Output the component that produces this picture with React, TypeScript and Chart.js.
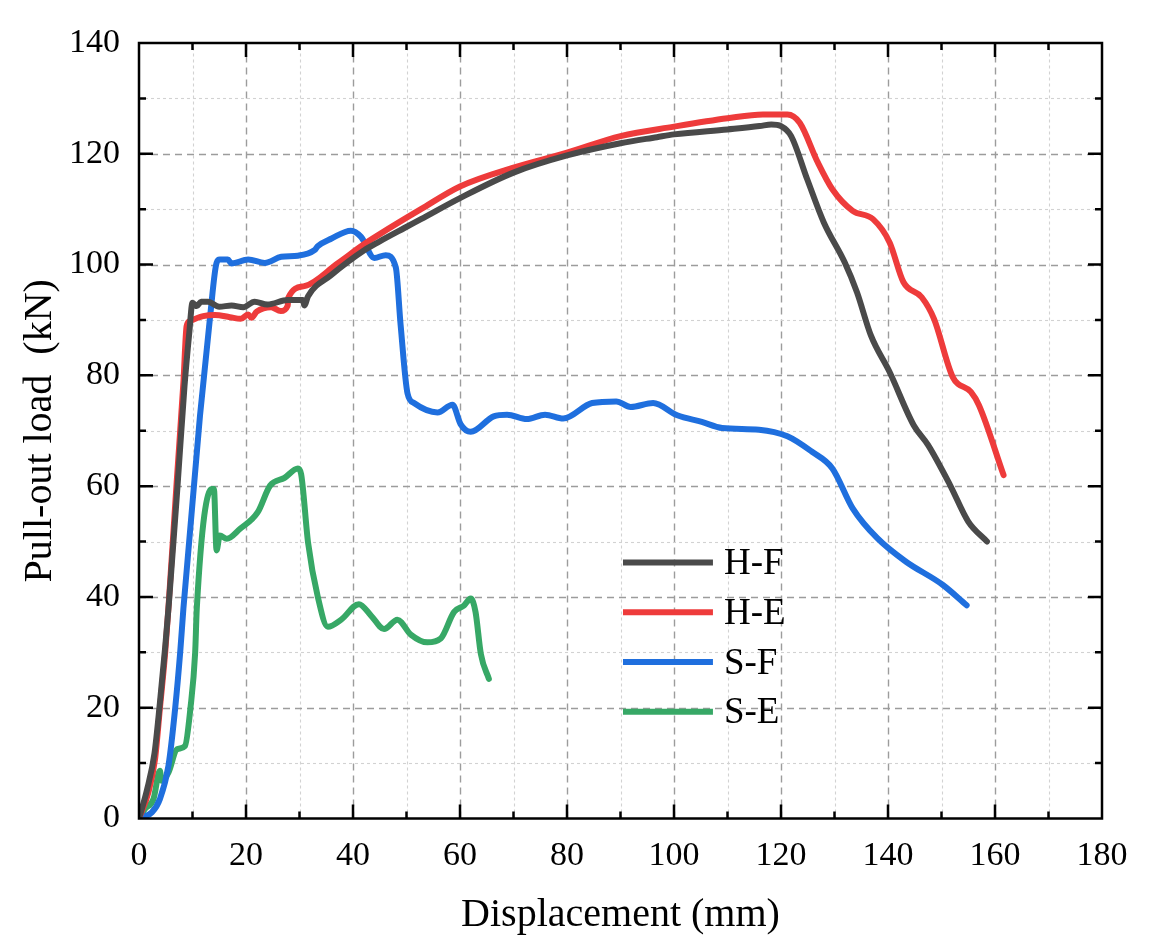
import React, { useEffect, useRef } from 'react';
import { Chart, registerables } from 'chart.js';
import type { Plugin } from 'chart.js';

Chart.register(...registerables);

const seriesNames = ['H-F', 'H-E', 'S-F', 'S-E'];
const seriesColors = ['#4a4a4a', '#ee3b3b', '#1f6fde', '#37a866'];

// H-F
const hfX = [0, 1.5, 2.9, 3.9, 4.9, 5.6, 7.2, 8.5, 9.4, 10, 10.8, 11.6, 12.9, 15, 17.3, 19.5, 21.6, 24, 27.8, 30.6, 30.9, 31.6, 35.9, 42.1, 45, 49.6, 52.7, 60, 70, 80, 90, 96.8, 100, 110, 116, 118.2, 120, 121.9, 124.9, 128, 131.9, 134.2, 136.8, 140.3, 144.8, 147.5, 151.6, 155, 158.5];
const hfY = [0, 5.2, 11.8, 20.8, 31, 39, 60, 78, 87.7, 93.1, 92.5, 93.3, 93.3, 92.4, 92.6, 92.3, 93.3, 92.8, 93.6, 93.6, 92.6, 94.3, 98.1, 102.6, 104.2, 106.6, 108.2, 112, 116.6, 119.7, 121.9, 123, 123.5, 124.4, 125, 125.3, 125, 123.2, 115.4, 107.6, 100.4, 95, 87.2, 80.6, 71, 67.4, 60.2, 53.6, 50];

// H-E
const heX = [0, 1.75, 3, 3.9, 4.9, 5.5, 7.04, 8.3, 8.9, 9.5, 12, 14.2, 17, 19, 20.4, 21, 22, 24.7, 26.5, 27.8, 27.9, 30.9, 37.1, 42.1, 45, 52.7, 60, 70, 80, 90, 100, 110, 116.6, 121.2, 123.5, 126.9, 129.6, 133.4, 137.2, 140.3, 142.9, 146.3, 148.6, 152.1, 155.5, 157, 161.6];
const heY = [0, 4.7, 10.7, 19.8, 30, 38, 60.7, 78.7, 88.9, 89.8, 90.7, 90.9, 90.5, 90.2, 91, 90.4, 91.5, 92.3, 91.6, 92.6, 94, 96.1, 100.2, 103.7, 105.5, 110, 114.1, 117.5, 120.2, 123.2, 124.9, 126.4, 127.1, 127.1, 125.6, 118.4, 113.6, 109.7, 108.2, 104, 96.8, 94.1, 90.2, 79.7, 77, 74.6, 62];

// S-F
const sfX = [0, 2.4, 3.9, 5.5, 6.75, 7.7, 8.3, 11.4, 13.3, 14.5, 15.1, 16.6, 17.3, 20.4, 23.5, 26.6, 29.7, 32.8, 33.4, 36, 39.6, 41.5, 44, 46.1, 48, 48.9, 50.2, 51.4, 55.8, 58.6, 60.1, 62, 66.3, 68.8, 72.5, 75.9, 79.3, 84.7, 89.2, 91.9, 96.1, 100.6, 105.2, 109, 115.9, 121.2, 125.8, 129.6, 133.4, 138, 143.3, 150.2, 154.7];
const sfY = [0, 1.1, 3.5, 9.5, 19.8, 30, 37.9, 72.7, 90.7, 100.3, 100.9, 100.9, 100.2, 100.9, 100.3, 101.4, 101.6, 102.6, 103.3, 104.7, 106.1, 105, 101.2, 101.7, 99.5, 89.1, 76.7, 75, 73.3, 74.7, 71.2, 69.8, 72.6, 72.9, 72.1, 72.9, 72.2, 75, 75.3, 74.3, 75, 72.8, 71.6, 70.5, 70.2, 69, 66.2, 63.2, 56, 50.6, 46.4, 42.2, 38.5];

// S-E
const seX = [0, 1.1, 2.7, 3.9, 4.25, 5.5, 7.1, 8.6, 9.6, 10.5, 10.8, 13.6, 14, 14.5, 15.1, 16.4, 18.9, 22.2, 24.5, 27.2, 29.7, 30.3, 31.6, 33.4, 35.3, 37.8, 41.1, 43.4, 45.8, 48.3, 50.8, 53.9, 56.4, 58.9, 60.7, 62, 62.9, 63.9, 65.4];
const seY = [0, 1.7, 3.5, 8.6, 6.8, 8.3, 12.5, 13.1, 19.8, 30, 37.9, 59.5, 59.5, 48.4, 51.1, 50.5, 52.3, 55.3, 60.1, 61.5, 63.2, 62.2, 49.8, 40.1, 34.6, 35.9, 38.7, 36.6, 34.2, 35.9, 33.2, 31.8, 32.5, 37.3, 38.4, 39.7, 37.3, 29.7, 25.2];

const seriesX = [hfX, heX, sfX, seX];
const seriesY = [hfY, heY, sfY, seY];

const xTicks = [0, 20, 40, 60, 80, 100, 120, 140, 160, 180];
const yTicks = [0, 20, 40, 60, 80, 100, 120, 140];

const serif = '"Liberation Serif", "Times New Roman", serif';

// grid behind the curves, frame with inward ticks on top of them, legend inside the plot
const framePlugin: Plugin = {
  id: 'framePlugin',
  beforeDatasetsDraw(chart) {
    const { ctx, chartArea: a } = chart;
    const x = chart.scales.x;
    const y = chart.scales.y;
    const xMax = xTicks[xTicks.length - 1];
    const yMax = yTicks[yTicks.length - 1];
    ctx.save();
    for (let v = 10; v < xMax; v += 10) {
      const major = v % 20 === 0;
      const px = Math.round(x.getPixelForValue(v)) + 0.5;
      ctx.strokeStyle = major ? '#9c9c9c' : '#d2d2d2';
      ctx.lineWidth = major ? 1.4 : 1.1;
      ctx.setLineDash(major ? [7, 5] : [3, 3]);
      ctx.beginPath();
      ctx.moveTo(px, a.bottom);
      ctx.lineTo(px, a.top);
      ctx.stroke();
    }
    for (let v = 10; v < yMax; v += 10) {
      const major = v % 20 === 0;
      const py = Math.round(y.getPixelForValue(v)) + 0.5;
      ctx.strokeStyle = major ? '#9c9c9c' : '#d2d2d2';
      ctx.lineWidth = major ? 1.4 : 1.1;
      ctx.setLineDash(major ? [7, 5] : [3, 3]);
      ctx.beginPath();
      ctx.moveTo(a.left, py);
      ctx.lineTo(a.right, py);
      ctx.stroke();
    }
    ctx.restore();
  },
  afterDatasetsDraw(chart) {
    const { ctx, chartArea: a } = chart;
    const x = chart.scales.x;
    const y = chart.scales.y;
    const xMax = xTicks[xTicks.length - 1];
    const yMax = yTicks[yTicks.length - 1];
    ctx.save();
    ctx.strokeStyle = '#000';
    ctx.lineWidth = 2.5;
    ctx.setLineDash([]);
    ctx.strokeRect(a.left, a.top, a.right - a.left, a.bottom - a.top);
    for (let v = 10; v < xMax; v += 10) {
      const len = v % 20 === 0 ? 14 : 7;
      const px = x.getPixelForValue(v);
      ctx.beginPath();
      ctx.moveTo(px, a.bottom);
      ctx.lineTo(px, a.bottom - len);
      ctx.moveTo(px, a.top);
      ctx.lineTo(px, a.top + len);
      ctx.stroke();
    }
    for (let v = 10; v < yMax; v += 10) {
      const len = v % 20 === 0 ? 14 : 7;
      const py = y.getPixelForValue(v);
      ctx.beginPath();
      ctx.moveTo(a.left, py);
      ctx.lineTo(a.left + len, py);
      ctx.moveTo(a.right, py);
      ctx.lineTo(a.right - len, py);
      ctx.stroke();
    }
    ctx.restore();
  },
  afterDraw(chart) {
    const { ctx, chartArea: a } = chart;
    const w = a.right - a.left;
    const h = a.bottom - a.top;
    const x0 = a.left + w * 0.5026;
    const x1 = a.left + w * 0.596;
    ctx.save();
    ctx.font = `37px ${serif}`;
    ctx.textBaseline = 'middle';
    ctx.fillStyle = '#000';
    seriesNames.forEach((name, i) => {
      const py = a.top + h * (0.67 + i * 0.0641);
      ctx.strokeStyle = seriesColors[i];
      ctx.lineWidth = 6;
      ctx.beginPath();
      ctx.moveTo(x0, py);
      ctx.lineTo(x1, py);
      ctx.stroke();
      ctx.fillText(name, x1 + 11, py + 2);
    });
    ctx.restore();
  },
};

export default function App() {
  const canvasRef = useRef<HTMLCanvasElement>(null);

  useEffect(() => {
    document.body.style.margin = '0';
    if (!canvasRef.current) return;

    const datasets = seriesNames.map((name, i) => ({
      label: name,
      data: seriesX[i].map((v, j) => ({ x: v, y: seriesY[i][j] })),
      borderColor: seriesColors[i],
      backgroundColor: seriesColors[i],
      borderWidth: 6,
      pointRadius: 0,
      showLine: true,
      tension: 0.3,
      cubicInterpolationMode: 'monotone' as const,
      borderJoinStyle: 'round' as const,
      borderCapStyle: 'round' as const,
    }));

    const chart = new Chart(canvasRef.current, {
      type: 'scatter',
      data: { datasets },
      options: {
        animation: false,
        responsive: true,
        maintainAspectRatio: false,
        layout: { padding: { top: 43, right: 56, left: 0, bottom: 0 } },
        plugins: {
          legend: { display: false },
          tooltip: { enabled: false },
        },
        scales: {
          x: {
            type: 'linear',
            min: xTicks[0],
            max: xTicks[xTicks.length - 1],
            afterBuildTicks: (scale) => {
              scale.ticks = xTicks.map((v) => ({ value: v }));
            },
            afterFit: (scale) => {
              scale.height = 133.5;
            },
            grid: { display: false, drawTicks: false },
            border: { display: false },
            ticks: {
              color: '#000',
              padding: 17,
              maxRotation: 0,
              font: { family: serif, size: 34 },
            },
            title: {
              display: true,
              text: 'Displacement (mm)',
              color: '#000',
              padding: { top: 0, bottom: 13 },
              font: { family: serif, size: 40 },
            },
          },
          y: {
            type: 'linear',
            min: yTicks[0],
            max: yTicks[yTicks.length - 1],
            afterBuildTicks: (scale) => {
              scale.ticks = yTicks.map((v) => ({ value: v }));
            },
            afterFit: (scale) => {
              scale.width = 139;
            },
            grid: { display: false, drawTicks: false },
            border: { display: false },
            ticks: {
              color: '#000',
              padding: 19,
              font: { family: serif, size: 34 },
            },
            title: {
              display: true,
              text: 'Pull-out load  (kN)',
              color: '#000',
              padding: { top: 16, bottom: 0 },
              font: { family: serif, size: 40 },
            },
          },
        },
      },
      plugins: [framePlugin],
    });

    return () => {
      chart.destroy();
    };
  }, []);

  return (
    <div style={{ width: 1158, height: 952, position: 'relative', background: '#fff' }}>
      <canvas ref={canvasRef} aria-label="Pull-out load vs displacement" role="img"></canvas>
    </div>
  );
}
